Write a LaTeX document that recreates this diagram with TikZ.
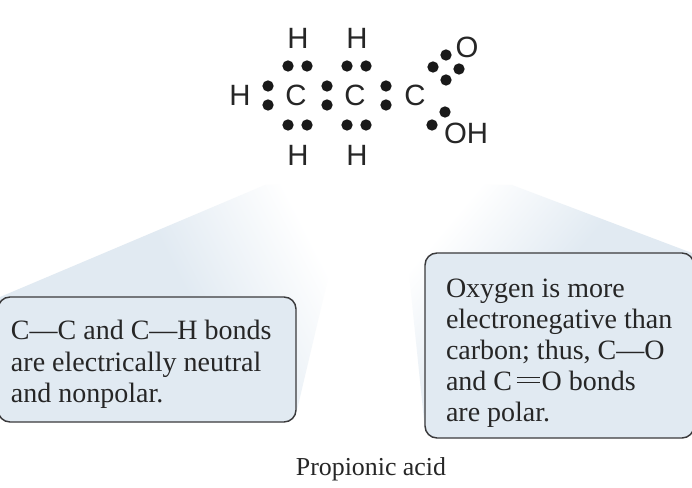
\documentclass[tikz,border=0pt]{standalone}
\usepackage{fontspec}
\setmainfont{Liberation Serif}
\newfontfamily\atomfont{Liberation Sans}
\definecolor{calloutblue}{HTML}{E1EAF2}
\definecolor{calloutline}{HTML}{3A3A3C}
\pgfdeclareverticalshading{wedgefade}{100bp}{color(0bp)=(calloutblue); color(52bp)=(calloutblue); color(74bp)=(white); color(100bp)=(white)}
\newcommand{\dblbond}{\kern3.5pt\rlap{\rule[0.44em]{0.82em}{0.05em}}\rule[0.27em]{0.82em}{0.05em}\kern1.5pt}
\tikzset{
    atom/.style={font=\atomfont\fontsize{22}{22}\selectfont, inner sep=0pt, text=black!85},
    electron/.style={circle, fill=black!90, inner sep=0pt, minimum size=8.5pt},
    callout/.style={draw=calloutline, line width=1.1pt, fill=calloutblue, rounded corners=9pt, align=flush left, font=\fontsize{21}{23.4}\selectfont, text=black!85},
    wedge/.style={shading=wedgefade}
}

\begin{document}
\begin{tikzpicture}[x=0.75pt, y=-0.75pt]
    \useasboundingbox (0,0) rectangle (692,488);
    \fill[white] (0,0) rectangle (692,488);
    % wedges behind the boxes
    \shade[wedge, shading angle=-63] (0,297) -- (265,185) -- (350,185) -- (297,410) -- (0,410) -- cycle;
    \shade[wedge, shading angle=50] (400,185) -- (512,185) -- (692,253) -- (692,430) -- (425,430) -- cycle;
    % atoms
    \node[atom] (Ha) at (298,38) {H};
    \node[atom] (Hb) at (357,38) {H};
    \node[atom] (Hc) at (240,95) {H};
    \node[atom] (Ca) at (296,95) {C};
    \node[atom] (Cb) at (355,95) {C};
    \node[atom] (Cc) at (415,95) {C};
    \node[atom] (Hd) at (298,155) {H};
    \node[atom] (He) at (357,155) {H};
    \node[atom] (O) at (467,47) {O};
    \node[atom] (OH) at (466,133) {OH};
    % electron pairs
    \foreach \x in {288,307,347,366} {
        \node[electron] (top\x) at (\x,66) {};
        \node[electron] (bot\x) at (\x,125) {};
    }
    \foreach \x in {268,327,386} {
        \node[electron] (up\x) at (\x,86) {};
        \node[electron] (lo\x) at (\x,105) {};
    }
    \foreach \x/\y [count=\i] in {433/67, 446/55, 459/69, 446/80, 445/112, 432/125} {
        \node[electron] (e\i) at (\x,\y) {};
    }
    % text boxes
    \node[callout, minimum width=223.5pt, minimum height=93.75pt, inner xsep=9.75pt, text width=204pt] (leftbox) at (147,359.5)
        {\rule{0pt}{22pt}C—C and C—H bonds\\are electrically neutral\\and nonpolar.};
    \node[callout, minimum width=201.75pt, minimum height=138.75pt, inner xsep=15.75pt, text width=170.25pt] (rightbox) at (559.5,345.5)
        {\rule{0pt}{25.5pt}Oxygen is more\\electronegative than\\carbon; thus, C—O\\and C\dblbond O bonds\\are polar.};
    \node[font=\fontsize{19.4}{23}\selectfont, text=black!85, inner sep=0pt] (caption) at (371,469) {Propionic acid};
\end{tikzpicture}
\end{document}
